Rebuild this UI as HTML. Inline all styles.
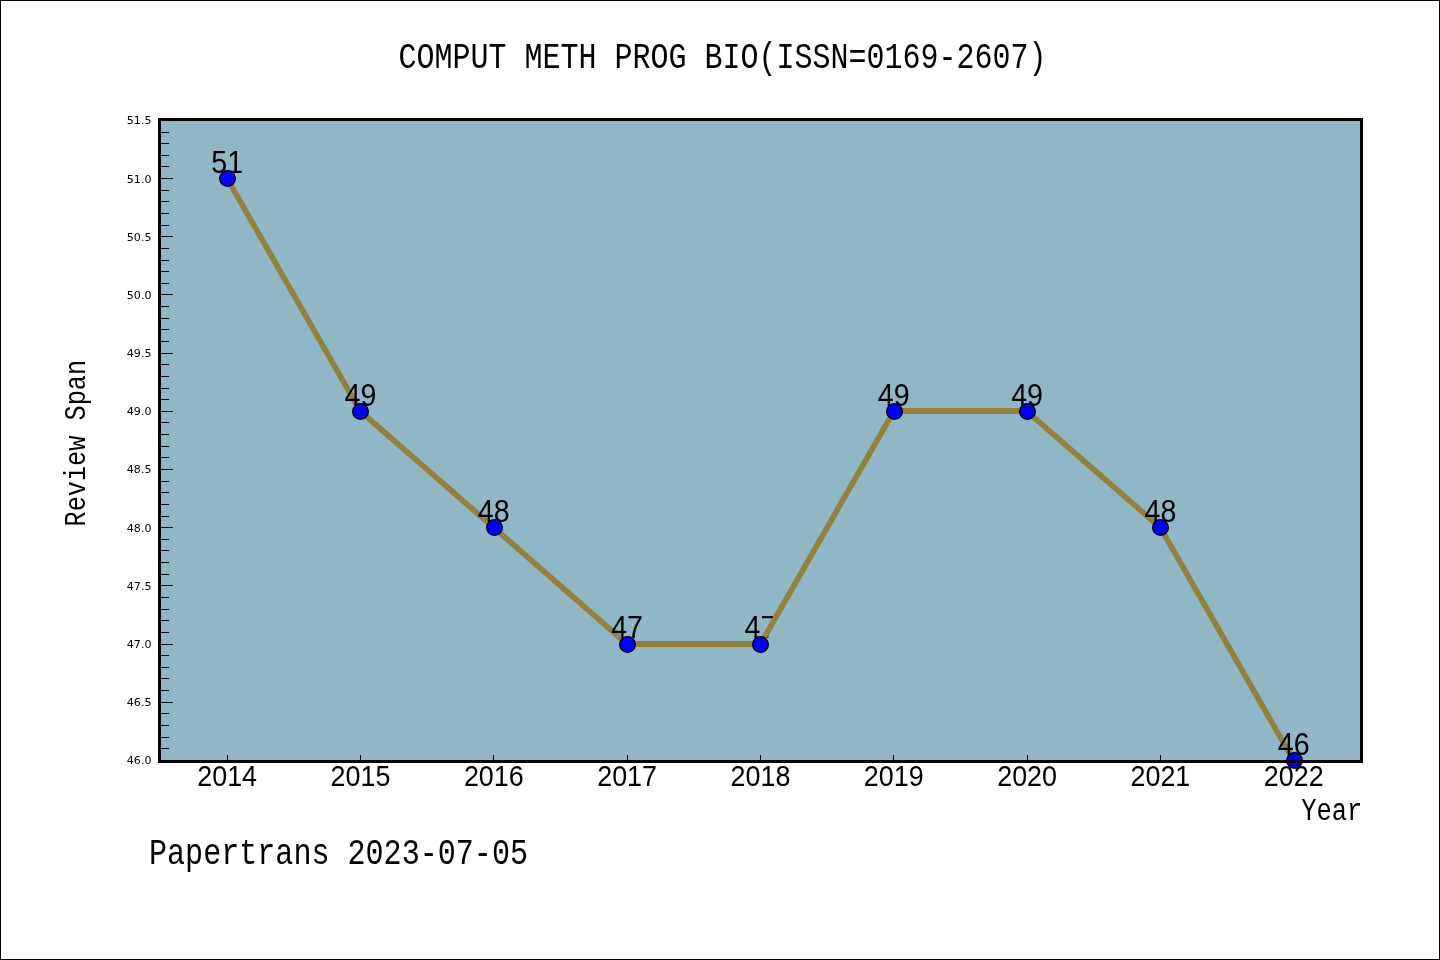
<!DOCTYPE html>
<html lang="en"><head><meta charset="utf-8"><title>COMPUT METH PROG BIO(ISSN=0169-2607)</title>
<style>html,body{margin:0;padding:0;background:#fff;overflow:hidden}svg{display:block}text{fill:#000}</style>
</head><body>
<svg width="1440" height="960" viewBox="0 0 1440 960">
<rect x="0" y="0" width="1440" height="960" fill="#fff"/>
<rect x="0.5" y="0.5" width="1439" height="959" fill="none" stroke="#000" stroke-width="1"/>
<rect x="159.5" y="119.5" width="1202.0" height="642.00" fill="#8fb7c6"/>
<g font-family="'Liberation Sans', sans-serif" font-size="30.8" text-anchor="middle" stroke="#938237" stroke-width="5.6" stroke-linecap="round">
<text stroke="none" transform="translate(227.15,172.78) scale(0.93,1)">51</text>
<line x1="227.15" y1="178.58" x2="360.47" y2="411.31"/>
<text stroke="none" transform="translate(360.47,405.51) scale(0.93,1)">49</text>
<line x1="360.47" y1="411.31" x2="493.79" y2="527.67"/>
<text stroke="none" transform="translate(493.79,521.87) scale(0.93,1)">48</text>
<line x1="493.79" y1="527.67" x2="627.11" y2="644.04"/>
<text stroke="none" transform="translate(627.11,638.24) scale(0.93,1)">47</text>
<line x1="627.11" y1="644" x2="760.43" y2="644" stroke-width="6" stroke-linecap="butt"/>
<text stroke="none" transform="translate(760.43,638.24) scale(0.93,1)">47</text>
<line x1="760.43" y1="644.04" x2="893.75" y2="411.31"/>
<text stroke="none" transform="translate(893.75,405.51) scale(0.93,1)">49</text>
<line x1="893.75" y1="411" x2="1027.07" y2="411" stroke-width="6" stroke-linecap="butt"/>
<text stroke="none" transform="translate(1027.07,405.51) scale(0.93,1)">49</text>
<line x1="1027.07" y1="411.31" x2="1160.39" y2="527.67"/>
<text stroke="none" transform="translate(1160.39,521.87) scale(0.93,1)">48</text>
<line x1="1160.39" y1="527.67" x2="1293.71" y2="760.40"/>
<text stroke="none" transform="translate(1293.71,754.60) scale(0.93,1)">46</text>
</g>
<g font-family="'Liberation Sans', sans-serif" font-size="28.6" text-anchor="middle">
<text transform="translate(227.15,785.7) scale(0.94,1)">2014</text>
<text transform="translate(360.47,785.7) scale(0.94,1)">2015</text>
<text transform="translate(493.79,785.7) scale(0.94,1)">2016</text>
<text transform="translate(627.11,785.7) scale(0.94,1)">2017</text>
<text transform="translate(760.43,785.7) scale(0.94,1)">2018</text>
<text transform="translate(893.75,785.7) scale(0.94,1)">2019</text>
<text transform="translate(1027.07,785.7) scale(0.94,1)">2020</text>
<text transform="translate(1160.39,785.7) scale(0.94,1)">2021</text>
<text transform="translate(1293.71,785.7) scale(0.94,1)">2022</text>
</g>
<g fill="#0000ff" stroke="#000" stroke-width="1.3">
<circle cx="227.5" cy="178.5" r="7.85"/>
<circle cx="360.5" cy="411.5" r="7.85"/>
<circle cx="494.5" cy="527.5" r="7.85"/>
<circle cx="627.5" cy="644.5" r="7.85"/>
<circle cx="760.5" cy="644.5" r="7.85"/>
<circle cx="894.5" cy="411.5" r="7.85"/>
<circle cx="1027.5" cy="411.5" r="7.85"/>
<circle cx="1160.5" cy="527.5" r="7.85"/>
<circle cx="1294.5" cy="760.5" r="7.85"/>
</g>
<g stroke="#000" stroke-width="1" shape-rendering="crispEdges">
<line x1="159.5" y1="760.5" x2="173.0" y2="760.5"/>
<line x1="159.5" y1="748.5" x2="169.0" y2="748.5"/>
<line x1="159.5" y1="737.5" x2="169.0" y2="737.5"/>
<line x1="159.5" y1="725.5" x2="169.0" y2="725.5"/>
<line x1="159.5" y1="713.5" x2="169.0" y2="713.5"/>
<line x1="159.5" y1="702.5" x2="173.0" y2="702.5"/>
<line x1="159.5" y1="690.5" x2="169.0" y2="690.5"/>
<line x1="159.5" y1="678.5" x2="169.0" y2="678.5"/>
<line x1="159.5" y1="667.5" x2="169.0" y2="667.5"/>
<line x1="159.5" y1="655.5" x2="169.0" y2="655.5"/>
<line x1="159.5" y1="644.5" x2="173.0" y2="644.5"/>
<line x1="159.5" y1="632.5" x2="169.0" y2="632.5"/>
<line x1="159.5" y1="620.5" x2="169.0" y2="620.5"/>
<line x1="159.5" y1="609.5" x2="169.0" y2="609.5"/>
<line x1="159.5" y1="597.5" x2="169.0" y2="597.5"/>
<line x1="159.5" y1="585.5" x2="173.0" y2="585.5"/>
<line x1="159.5" y1="574.5" x2="169.0" y2="574.5"/>
<line x1="159.5" y1="562.5" x2="169.0" y2="562.5"/>
<line x1="159.5" y1="550.5" x2="169.0" y2="550.5"/>
<line x1="159.5" y1="539.5" x2="169.0" y2="539.5"/>
<line x1="159.5" y1="527.5" x2="173.0" y2="527.5"/>
<line x1="159.5" y1="516.5" x2="169.0" y2="516.5"/>
<line x1="159.5" y1="504.5" x2="169.0" y2="504.5"/>
<line x1="159.5" y1="492.5" x2="169.0" y2="492.5"/>
<line x1="159.5" y1="481.5" x2="169.0" y2="481.5"/>
<line x1="159.5" y1="469.5" x2="173.0" y2="469.5"/>
<line x1="159.5" y1="457.5" x2="169.0" y2="457.5"/>
<line x1="159.5" y1="446.5" x2="169.0" y2="446.5"/>
<line x1="159.5" y1="434.5" x2="169.0" y2="434.5"/>
<line x1="159.5" y1="422.5" x2="169.0" y2="422.5"/>
<line x1="159.5" y1="411.5" x2="173.0" y2="411.5"/>
<line x1="159.5" y1="399.5" x2="169.0" y2="399.5"/>
<line x1="159.5" y1="388.5" x2="169.0" y2="388.5"/>
<line x1="159.5" y1="376.5" x2="169.0" y2="376.5"/>
<line x1="159.5" y1="364.5" x2="169.0" y2="364.5"/>
<line x1="159.5" y1="353.5" x2="173.0" y2="353.5"/>
<line x1="159.5" y1="341.5" x2="169.0" y2="341.5"/>
<line x1="159.5" y1="329.5" x2="169.0" y2="329.5"/>
<line x1="159.5" y1="318.5" x2="169.0" y2="318.5"/>
<line x1="159.5" y1="306.5" x2="169.0" y2="306.5"/>
<line x1="159.5" y1="294.5" x2="173.0" y2="294.5"/>
<line x1="159.5" y1="283.5" x2="169.0" y2="283.5"/>
<line x1="159.5" y1="271.5" x2="169.0" y2="271.5"/>
<line x1="159.5" y1="260.5" x2="169.0" y2="260.5"/>
<line x1="159.5" y1="248.5" x2="169.0" y2="248.5"/>
<line x1="159.5" y1="236.5" x2="173.0" y2="236.5"/>
<line x1="159.5" y1="225.5" x2="169.0" y2="225.5"/>
<line x1="159.5" y1="213.5" x2="169.0" y2="213.5"/>
<line x1="159.5" y1="201.5" x2="169.0" y2="201.5"/>
<line x1="159.5" y1="190.5" x2="169.0" y2="190.5"/>
<line x1="159.5" y1="178.5" x2="173.0" y2="178.5"/>
<line x1="159.5" y1="166.5" x2="169.0" y2="166.5"/>
<line x1="159.5" y1="155.5" x2="169.0" y2="155.5"/>
<line x1="159.5" y1="143.5" x2="169.0" y2="143.5"/>
<line x1="159.5" y1="132.5" x2="169.0" y2="132.5"/>
<line x1="159.5" y1="120.5" x2="173.0" y2="120.5"/>
<line x1="227.5" y1="761.5" x2="227.5" y2="755"/>
<line x1="360.5" y1="761.5" x2="360.5" y2="755"/>
<line x1="493.5" y1="761.5" x2="493.5" y2="755"/>
<line x1="627.5" y1="761.5" x2="627.5" y2="755"/>
<line x1="760.5" y1="761.5" x2="760.5" y2="755"/>
<line x1="893.5" y1="761.5" x2="893.5" y2="755"/>
<line x1="1027.5" y1="761.5" x2="1027.5" y2="755"/>
<line x1="1160.5" y1="761.5" x2="1160.5" y2="755"/>
<line x1="1293.5" y1="761.5" x2="1293.5" y2="755"/>
</g>
<rect x="159.5" y="119.5" width="1202.0" height="642.00" fill="none" stroke="#000" stroke-width="3"/>
<g font-family="'DejaVu Sans', 'Liberation Sans', sans-serif" font-size="11.1" text-anchor="end">
<text x="151.5" y="764.40">46.0</text>
<text x="151.5" y="706.22">46.5</text>
<text x="151.5" y="648.04">47.0</text>
<text x="151.5" y="589.85">47.5</text>
<text x="151.5" y="531.67">48.0</text>
<text x="151.5" y="473.49">48.5</text>
<text x="151.5" y="415.31">49.0</text>
<text x="151.5" y="357.13">49.5</text>
<text x="151.5" y="298.94">50.0</text>
<text x="151.5" y="240.76">50.5</text>
<text x="151.5" y="182.58">51.0</text>
<text x="151.5" y="124.40">51.5</text>
</g>
<text font-family="'Liberation Mono', monospace" font-size="30.56" transform="translate(1301.2,820.3) scale(0.8333,1)">Year</text>
<text font-family="'Liberation Mono', monospace" font-size="30.3" transform="translate(85,526.5) rotate(-90) scale(0.8333,1)">Review Span</text>
<text font-family="'Liberation Mono', monospace" font-size="36" transform="translate(398.5,67.5) scale(0.8333,1)">COMPUT METH PROG BIO(ISSN=0169-2607)</text>
<text font-family="'Liberation Mono', monospace" font-size="36.1" transform="translate(149,864) scale(0.8333,1)">Papertrans 2023-07-05</text>
</svg>
</body></html>
